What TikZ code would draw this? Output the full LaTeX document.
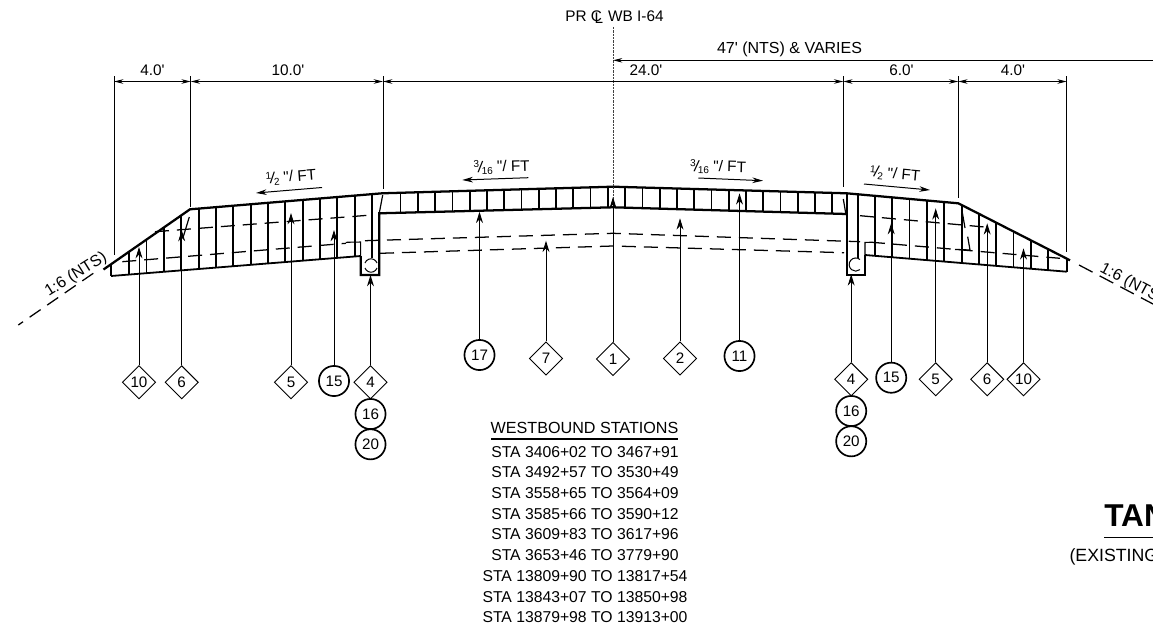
\documentclass[tikz,border=0pt]{standalone}
\usepackage{fontspec}
\setmainfont{Liberation Sans}[Ligatures=TeXOff]
\usetikzlibrary{arrows.meta,shapes.geometric}

\newcommand{\clmark}{\makebox[0.85em][l]{C\kern-0.48em\raisebox{-0.28ex}{L}}}
\newcommand{\slopefrac}[2]{\raisebox{0.55ex}{\fontsize{7.5}{8}\selectfont #1}\kern-0.12em\rotatebox{-8}{\fontsize{12}{12}\selectfont /}\kern-0.12em\raisebox{-0.25ex}{\fontsize{7.5}{8}\selectfont #2}}

\tikzset{
	tagfont/.style={font=\fontsize{11.4}{13}\selectfont},
	lblfont/.style={font=\fontsize{11.5}{13}\selectfont},
	stafont/.style={font=\fontsize{11.8}{14}\selectfont},
	diatag/.style={shape=diamond,draw,line width=0.7pt,minimum size=25pt,inner sep=0pt,aspect=1,tagfont},
	cirtag/.style={shape=circle,draw,line width=1.25pt,minimum size=22.6pt,inner sep=0pt,tagfont},
	leader/.style={line width=0.7pt,-{Stealth[length=8.5pt,width=5.2pt]}},
	dimline/.style={line width=0.65pt,{Stealth[length=7pt,width=3.4pt]}-{Stealth[length=7pt,width=3.4pt]}},
	extline/.style={line width=0.75pt},
	slopearrow/.style={line width=0.75pt,-{Stealth[length=8pt,width=4.2pt]}},
	outline/.style={line width=1.7pt},
	hatchline/.style={line width=1.3pt},
	hiddenline/.style={line width=0.95pt,dash pattern=on 10.5pt off 6pt},
	staline/.style={stafont,inner sep=0pt},
}

\begin{document}
\begin{tikzpicture}[x=0.75pt,y=0.75pt,yscale=-1,xscale=1]
	\useasboundingbox (0,0) rectangle (1153,629);
	
	%Pavement outline
	\draw [outline] (103.5,269.5) -- (190,209.3) -- (382,193.3) -- (613,186.7) -- (846.7,193.3) -- (958.3,203.3) -- (1070,260.3) ;
	\draw [outline] (111,264.5) -- (111,276) ;
	\draw [line width=1.35pt] (111,276) -- (360.7,256) ;
	\draw [outline] (360.7,256) -- (360.7,275) -- (379.3,275) -- (379.3,213.3) -- (613,207.3) -- (846.7,214) ;
	\draw [outline] (846.7,193.3) -- (846.7,275) -- (865,275) -- (865,255) ;
	\draw [line width=1.35pt] (865,255) -- (1066.7,271.7) ;
	\draw [outline] (1066.7,259) -- (1066.7,271.7) ;
	
	%Notch sides
	\draw [line width=0.8pt] (360.7,256) -- (360.7,242) -- (346,242.3) ;
	\draw [line width=0.8pt] (865,255) -- (865,242.5) -- (871,242.2) ;
	\draw [line width=0.9pt] (379.3,213) -- (382.7,195) ;
	\draw [line width=0.9pt] (843.3,199) -- (846,215) ;
	
	%Hatching
	\foreach \x in {129.3,146.6,164,181.3} {
		\draw [hatchline] (\x,{264.5-0.699*(\x-111)}) -- (\x,{276-0.0802*(\x-111)}) ;
	}
	\foreach \x in {198.7,216.03,...,355} {
		\draw [hatchline] (\x,{209.3-0.0833*(\x-190)}) -- (\x,{276-0.0802*(\x-111)}) ;
	}
	\foreach \x in {400.6,417.87,...,833} {
		\draw [hatchline] (\x,{186.7+0.0285*abs(\x-613)}) -- (\x,{207.3+0.0265*abs(\x-613)}) ;
	}
	\foreach \x in {875,892.3,...,945} {
		\draw [hatchline] (\x,{193.3+0.0896*(\x-846.7)}) -- (\x,{255+0.0835*(\x-866.7)}) ;
	}
	\foreach \x in {961.7,979,...,1049} {
		\draw [hatchline] (\x,{203.3+0.507*(\x-958.3)}) -- (\x,{255+0.0835*(\x-866.7)}) ;
	}
	\draw [hatchline] (372,193) -- (372,258) ;
	\draw [hatchline] (857.7,195) -- (857.7,258) ;
	
	%Circles in notches
	\draw [line width=0.75pt] (377,263) arc (-20:-160:6.4) ;
	\draw [line width=0.75pt] (365,268) arc (160:20:6.4) ;
	\draw [line width=0.75pt] (860,259.5) arc (-50:-310:6.6) ;
	
	%Hidden layers
	\draw [hiddenline] (155,231.7) -- (371.7,215) ;
	\draw [hiddenline] (122.3,261.7) -- (346,243.3) ;
	\draw [hiddenline] (365,240.7) -- (613,233.3) -- (860,241.7) ;
	\draw [hiddenline] (380,253.3) -- (613,246) -- (844,252.7) ;
	\draw [hiddenline] (860,215.7) -- (990,227.5) ;
	\draw [hiddenline] (871,242.2) -- (1060,258.3) ;
	\draw [line width=0.9pt] (189.3,217) -- (183.3,236.7) ;
	\draw [line width=0.9pt] (961.7,209) -- (965,228) ;
	\draw [line width=0.9pt] (967.7,236.7) -- (970,250) -- (955,249.4) ;
	
	%Slope lines
	\draw [line width=0.95pt,dash pattern=on 10pt off 6pt] (93.3,273.3) -- (18.3,325) ;
	\draw [line width=0.95pt,dash pattern=on 11.5pt off 6pt] (1079,265) -- (1153,304) ;
	
	%Centre line
	\draw [line width=0.7pt,black!75,dash pattern=on 1.8pt off 0.7pt] (613,27) -- (613,205) ;
	
	%Dimension lines
	\foreach \x/\ylow/\name in {114/255/dima,190.7/207/dimb,383/189/dimc,843.3/187/dimd,958.3/198/dime,1066.7/252/dimf} {
		\coordinate (\name) at (\x,81.5);
		\draw [extline] (\x,76) -- (\x,\ylow) ;
	}
	\draw [dimline] (dima) -- (dimb) ;
	\draw [dimline] (dimb) -- (dimc) ;
	\draw [dimline] (dimc) -- (dimd) ;
	\draw [dimline] (dimd) -- (dime) ;
	\draw [dimline] (dime) -- (dimf) ;
	\coordinate (varyend) at (1153,60.3);
	\coordinate (varytip) at (613,60.3);
	\draw [line width=0.65pt,-{Stealth[length=7pt,width=3.4pt]}] (varyend) -- (varytip) ;
	
	% Text Node
	\node (prtitle) at (614.5,17) [lblfont] {PR \clmark\ WB I-64};
	\node (varytext) at (789.5,49) [font=\fontsize{12}{14}\selectfont] {47' (NTS) \& VARIES};
	\node (dimtxta) at (152.5,70.7) [lblfont] {4.0'};
	\node (dimtxtb) at (288,70.7) [lblfont] {10.0'};
	\node (dimtxtc) at (646,70.7) [lblfont] {24.0'};
	\node (dimtxtd) at (901.5,70.7) [lblfont] {6.0'};
	\node (dimtxte) at (1013,70.7) [lblfont] {4.0'};
	
	%Slope labels
	\coordinate (slpa) at (322,187.5);
	\coordinate (slpb) at (256,193);
	\coordinate (slpc) at (528.3,177.7);
	\coordinate (slpd) at (462.3,180);
	\coordinate (slpe) at (698.3,178);
	\coordinate (slpf) at (763,180.7);
	\coordinate (slpg) at (864,184);
	\coordinate (slph) at (930,190);
	\draw [slopearrow] (slpa) -- (slpb) ;
	\draw [slopearrow] (slpc) -- (slpd) ;
	\draw [slopearrow] (slpe) -- (slpf) ;
	\draw [slopearrow] (slpg) -- (slph) ;
	\node (slptxta) at (291,177) [lblfont,rotate=4.5] {\slopefrac{1}{2} "/ FT};
	\node (slptxtb) at (501.7,167) [lblfont,rotate=1.5] {\slopefrac{3}{16} "/ FT};
	\node (slptxtc) at (718,167) [lblfont,rotate=-1.5] {\slopefrac{3}{16} "/ FT};
	\node (slptxtd) at (895,174) [lblfont,rotate=-5] {\slopefrac{1}{2} "/ FT};
	\node (ntsleft) at (76,275) [font=\fontsize{12}{14}\selectfont,rotate=32] {1:6 (NTS)};
	\node (ntsright) at (1099,271) [font=\fontsize{12}{14}\selectfont,rotate=-28,anchor=base west,inner sep=0pt] {1:6 (NTS)};
	
	%Tags, left side
	\node (dtenl) at (139,382.3) [diatag] {10};
	\node (dsixl) at (181.7,382.3) [diatag] {6};
	\node (dfivel) at (291,382.3) [diatag] {5};
	\node (cfifl) at (334,381) [cirtag] {15};
	\node (dfourl) at (370.5,382.3) [diatag] {4};
	\node (csixtl) at (370.5,414) [cirtag] {16};
	\node (ctwel) at (370.5,444.3) [cirtag] {20};
	%Tags, middle
	\node (cseven) at (479.5,355) [cirtag] {17};
	\node (dseven) at (546,358.5) [diatag] {7};
	\node (done) at (613,359) [diatag] {1};
	\node (dtwo) at (680,358.5) [diatag] {2};
	\node (celev) at (739.5,356) [cirtag] {11};
	%Tags, right side
	\node (dfourr) at (851.2,379.3) [diatag] {4};
	\node (csixtr) at (851.2,411) [cirtag] {16};
	\node (ctwer) at (851.2,441.3) [cirtag] {20};
	\node (cfifr) at (891.2,377.7) [cirtag] {15};
	\node (dfiver) at (935.7,379.3) [diatag] {5};
	\node (dsixr) at (987.2,379.3) [diatag] {6};
	\node (dtenr) at (1023.5,379.3) [diatag] {10};
	
	%Leaders
	\foreach \tagname/\tipx/\tipy in {dtenl/139/247,dsixl/181.7/230,dfivel/291/213,cfifl/334/230,dfourl/370.5/275,cseven/479.5/211.7,dseven/546/240.7,done/613/197,dtwo/680/218.3,celev/739.5/193.3,dfourr/851.2/274.3,cfifr/891.2/223,dfiver/935.7/208.3,dsixr/987.2/223.3,dtenr/1023.5/248.3} {
		\coordinate (tip\tagname) at (\tipx,\tipy);
		\draw [leader] (\tagname) -- (tip\tagname) ;
	}
	
	%Stations table
	\node (stahead) at (584.5,428) [inner sep=0pt,font=\fontsize{12.1}{14}\selectfont] {WESTBOUND STATIONS};
	\coordinate (ruleleft) at (491,439.3);
	\coordinate (ruleright) at (678,439.3);
	\draw [line width=1.5pt] (ruleleft) -- (ruleright) ;
	\foreach \y/\stext in {451.7/STA 3406+02 TO 3467+91,472.4/STA 3492+57 TO 3530+49,493.1/STA 3558+65 TO 3564+09,513.8/STA 3585+66 TO 3590+12,534.5/STA 3609+83 TO 3617+96,555.2/STA 3653+46 TO 3779+90,575.9/STA 13809+90 TO 13817+54,596.6/STA 13843+07 TO 13850+98,617.3/STA 13879+98 TO 13913+00} {
		\node at (585,\y) [staline] {\stext};
	}
	
	%Title
	\node (titletan) at (1104,526) [anchor=base west,inner sep=0pt,font=\fontsize{23.7}{26}\selectfont\bfseries] {TAN};
	\coordinate (titlea) at (1104,537.7);
	\coordinate (titleb) at (1153,537.7);
	\draw [line width=0.75pt] (titlea) -- (titleb) ;
	\node (titlesub) at (1069.3,556.7) [anchor=west,inner sep=0pt,font=\fontsize{13.3}{15}\selectfont] {(EXISTING};
\end{tikzpicture}
\end{document}
